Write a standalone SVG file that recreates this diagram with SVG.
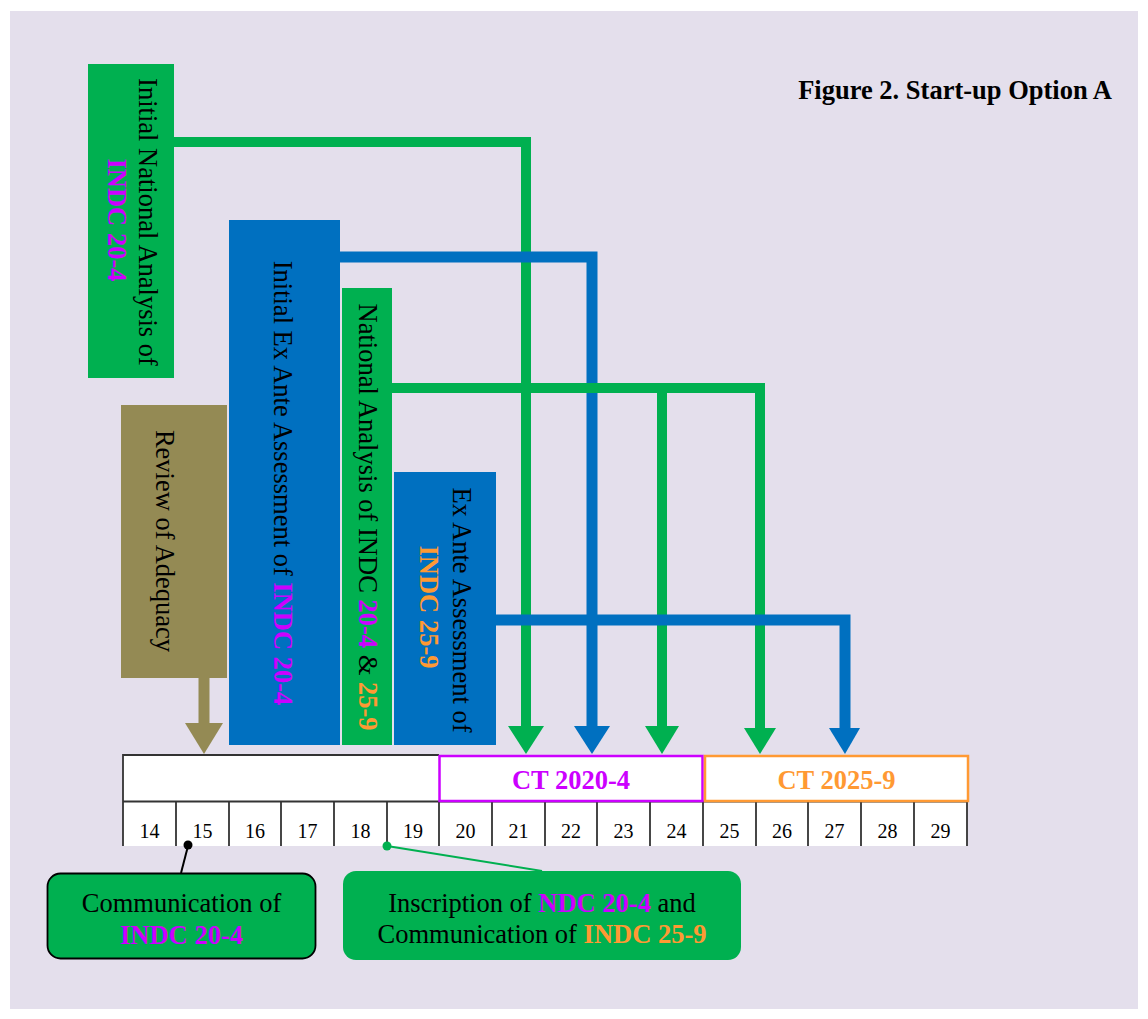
<svg xmlns="http://www.w3.org/2000/svg" width="1148" height="1019" viewBox="0 0 1148 1019">
<style>
text{font-family:"Liberation Serif","Times New Roman",serif;font-size:26.5px;fill:#000}
.b{font-weight:bold}
.mag{fill:#CC00FF;font-weight:bold}
.org{fill:#FF9933;font-weight:bold}
.num{font-size:20px;text-anchor:middle}
.g{fill:#00B050}
.bl{fill:#0070C0}
.ol{fill:#948A54}
.lg{stroke:#00B050;stroke-width:10;fill:none}
.lb{stroke:#0070C0;stroke-width:11;fill:none}
.lo{stroke:#948A54;stroke-width:11;fill:none}
.cell{stroke:#333;stroke-width:1.8}
</style>
<rect x="0" y="0" width="1148" height="1019" fill="#fff"/>
<rect x="10" y="11" width="1128" height="998" fill="#E4DFEC"/>
<text id="title" class="b" x="1112" y="99" text-anchor="end">Figure 2. Start-up Option A</text>

<g id="node-initial-national-analysis">
  <rect class="g" x="88" y="64" width="86" height="314"/>
  <text transform="translate(139,222) rotate(90)" text-anchor="middle">Initial National Analysis of</text>
  <text class="mag" transform="translate(108,220) rotate(90)" text-anchor="middle">INDC 20-4</text>
</g>

<g id="node-initial-ex-ante">
  <rect class="bl" x="229" y="220" width="111" height="525"/>
  <text transform="translate(274,483) rotate(90)" text-anchor="middle">Initial Ex Ante Assessment of <tspan class="mag">INDC 20-4</tspan></text>
</g>

<g id="node-national-analysis">
  <rect class="g" x="342" y="288" width="50" height="457"/>
  <text transform="translate(359,517) rotate(90)" text-anchor="middle">National Analysis of INDC <tspan class="mag">20-4</tspan> &amp; <tspan class="org">25-9</tspan></text>
</g>

<g id="node-ex-ante">
  <rect class="bl" x="394" y="472" width="102" height="273"/>
  <text transform="translate(453,610) rotate(90)" text-anchor="middle">Ex Ante Assessment of</text>
  <text class="org" transform="translate(420,607) rotate(90)" text-anchor="middle">INDC 25-9</text>
</g>

<g id="node-review">
  <rect class="ol" x="121" y="405" width="106" height="273"/>
  <text transform="translate(156,541) rotate(90)" text-anchor="middle">Review of Adequacy</text>
</g>

<g id="timeline">
  <rect x="123" y="755" width="844" height="91" fill="#fff"/>
  <path class="cell" fill="none" d="M123,846 V755 H439 M123,801.5 H967"/>
  <path class="cell" d="M176,801 V846 M229,801 V846 M281,801 V846 M334,801 V846 M387,801 V846 M439,801 V846 M492,801 V846 M545,801 V846 M597,801 V846 M650,801 V846 M703,801 V846 M756,801 V846 M808,801 V846 M861,801 V846 M914,801 V846 M967,801 V846"/>
  <text class="num" x="149.5" y="838">14</text>
  <text class="num" x="202.5" y="838">15</text>
  <text class="num" x="255" y="838">16</text>
  <text class="num" x="307.5" y="838">17</text>
  <text class="num" x="360.5" y="838">18</text>
  <text class="num" x="413" y="838">19</text>
  <text class="num" x="465.5" y="838">20</text>
  <text class="num" x="518.5" y="838">21</text>
  <text class="num" x="571" y="838">22</text>
  <text class="num" x="623.5" y="838">23</text>
  <text class="num" x="676.5" y="838">24</text>
  <text class="num" x="729.5" y="838">25</text>
  <text class="num" x="782" y="838">26</text>
  <text class="num" x="834.5" y="838">27</text>
  <text class="num" x="887.5" y="838">28</text>
  <text class="num" x="940.5" y="838">29</text>
</g>

<g id="node-ct-2020-4">
  <rect x="439.5" y="756" width="263" height="45" fill="#fff" stroke="#CC00FF" stroke-width="2.5"/>
  <text class="mag" x="571" y="789" text-anchor="middle">CT 2020-4</text>
</g>

<g id="node-ct-2025-9">
  <rect x="705" y="756" width="263" height="45" fill="#fff" stroke="#FF9933" stroke-width="2.5"/>
  <text class="org" x="836.5" y="789" text-anchor="middle">CT 2025-9</text>
</g>

<g id="node-communication">
  <rect x="47.5" y="873.5" width="268" height="85" rx="13" fill="#00B050" stroke="#000" stroke-width="1.8"/>
  <text x="181.5" y="912" text-anchor="middle">Communication of</text>
  <text class="mag" x="181.5" y="944" text-anchor="middle">INDC 20-4</text>
</g>

<g id="node-inscription">
  <rect x="343" y="871" width="398" height="89" rx="13" fill="#00B050"/>
  <text x="542" y="912" text-anchor="middle">Inscription of <tspan class="mag">NDC 20-4</tspan> and</text>
  <text x="542" y="943" text-anchor="middle">Communication of <tspan class="org">INDC 25-9</tspan></text>
</g>

<g id="connectors">
  <path class="lg" d="M174,142 H526 V727"/>
  <path class="lb" d="M340,257 H592 V727"/>
  <path class="lg" d="M392,388 H760 V729"/>
  <path class="lg" d="M662,388 V727"/>
  <path class="lb" d="M496,620 H845 V729"/>
  <path class="lo" d="M204,678 V724"/>
  <polygon class="g" points="508,726 544,726 526,754"/>
  <polygon class="bl" points="574,726 610,726 592,754"/>
  <polygon class="g" points="645,726 679,726 662,754"/>
  <polygon class="g" points="744,728 776,728 760,754"/>
  <polygon class="bl" points="829,728 860,728 845,754"/>
  <polygon class="ol" points="185,723 223,723 204,754"/>
  <line x1="188" y1="846" x2="181" y2="873" stroke="#000" stroke-width="2"/>
  <circle cx="188" cy="845" r="4.5" fill="#000"/>
  <line x1="387" y1="846" x2="542" y2="871" stroke="#00B050" stroke-width="2"/>
  <circle cx="387" cy="846" r="4.5" fill="#00B050"/>
</g>
</svg>
